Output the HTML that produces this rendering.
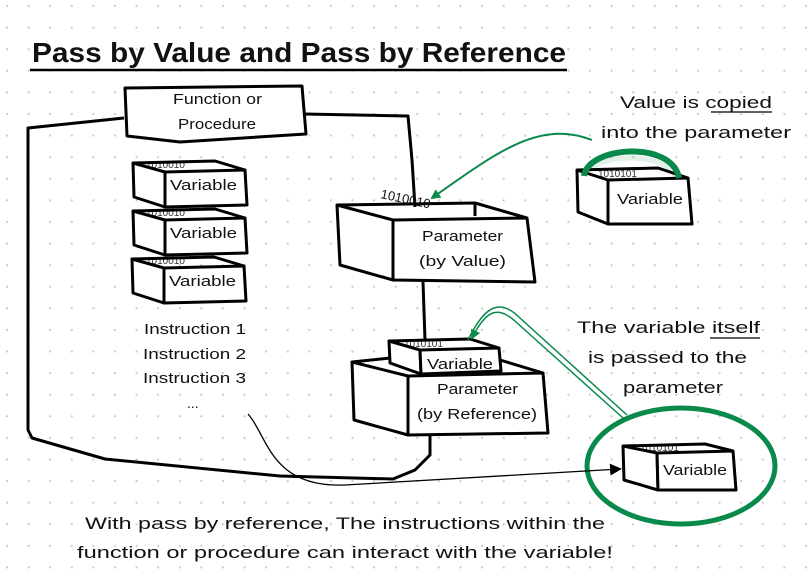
<!DOCTYPE html>
<html><head><meta charset="utf-8"><style>
html,body{margin:0;padding:0;background:#fff;}
body{width:808px;height:586px;overflow:hidden;
background-image:radial-gradient(circle,#c8c8c8 0.9px,transparent 1.3px);
background-size:21.6px 21.6px;background-position:-3.8px -4.8px;}
svg{position:absolute;left:0;top:0;}
text{font-family:"Liberation Sans",sans-serif;fill:#111;}
.b{fill:#fff;stroke:#000;stroke-width:3;stroke-linejoin:round;}
.l{fill:none;stroke:#000;stroke-width:3;stroke-linejoin:round;}
.g{fill:none;stroke:#0a8a4a;}
.bin{font-size:10px;fill:#333;}
</style></head><body>
<svg width="808" height="586" viewBox="0 0 808 586">
<defs>
<marker id="ga" markerWidth="10" markerHeight="10" refX="8" refY="5" orient="auto" markerUnits="userSpaceOnUse"><path d="M0,0 L10,5 L0,10 z" fill="#0a8a4a"/></marker>
<marker id="ka" markerWidth="12" markerHeight="12" refX="10" refY="6" orient="auto" markerUnits="userSpaceOnUse"><path d="M0,0 L12,6 L0,12 z" fill="#000"/></marker>
</defs>
<!-- title -->
<text x="32" y="62" font-size="28" font-weight="bold" textLength="534" lengthAdjust="spacingAndGlyphs">Pass by Value and Pass by Reference</text>
<line x1="30" y1="70" x2="567" y2="70" stroke="#000" stroke-width="2.5"/>

<!-- outline -->
<path class="l" d="M124,118 L28,128 L28,430 L32,438 L105,459 L280,476 L393,479 L415,470 L430,455 L430,436"/>
<path class="l" d="M304,114 L408,116 L412,160 L415,207"/>
<line x1="423" y1="282" x2="425" y2="340" stroke="#000" stroke-width="3"/>

<!-- function box -->
<path class="b" d="M125,88 L302,86 L306,134 L180,142 L127,136 Z"/>
<text x="173" y="104" font-size="15" textLength="89" lengthAdjust="spacingAndGlyphs">Function or</text>
<text x="178" y="129" font-size="15" textLength="78" lengthAdjust="spacingAndGlyphs">Procedure</text>

<!-- variable boxes left -->
<g>
<text class="bin" x="146" y="168">1010010</text>
<path class="b" d="M133,163 L165,172 L165,207 L134,197 Z"/>
<path class="b" d="M165,172 L245,170 L247,205 L165,207 Z"/>
<path class="l" d="M133,163 L215,161 L245,170"/>
<text x="170" y="190" font-size="15" textLength="67" lengthAdjust="spacingAndGlyphs">Variable</text>
</g>
<g>
<text class="bin" x="146" y="216">1010010</text>
<path class="b" d="M133,211 L165,220 L165,255 L134,245 Z"/>
<path class="b" d="M165,220 L245,218 L247,253 L165,255 Z"/>
<path class="l" d="M133,211 L215,209 L245,218"/>
<text x="170" y="238" font-size="15" textLength="67" lengthAdjust="spacingAndGlyphs">Variable</text>
</g>
<g>
<text class="bin" x="146" y="264">1010010</text>
<path class="b" d="M132,259 L164,268 L164,303 L133,293 Z"/>
<path class="b" d="M164,268 L244,266 L246,301 L164,303 Z"/>
<path class="l" d="M132,259 L214,257 L244,266"/>
<text x="169" y="286" font-size="15" textLength="67" lengthAdjust="spacingAndGlyphs">Variable</text>
</g>

<!-- instructions -->
<text x="144" y="334" font-size="15" textLength="102" lengthAdjust="spacingAndGlyphs">Instruction 1</text>
<text x="143" y="359" font-size="15" textLength="103" lengthAdjust="spacingAndGlyphs">Instruction 2</text>
<text x="143" y="383" font-size="15" textLength="103" lengthAdjust="spacingAndGlyphs">Instruction 3</text>
<text x="187" y="408" font-size="14">...</text>

<!-- param by value -->
<text x="380" y="198" font-size="13" transform="rotate(12 380 198)">1010010</text>
<path class="b" d="M337,205 L393,220 L393,280 L340,265 Z"/>
<path class="b" d="M393,220 L527,218 L535,282 L393,280 Z"/>
<path class="l" d="M337,205 L475,203 L527,218 M475,203 L475,216"/>
<text x="422" y="241" font-size="15" textLength="81" lengthAdjust="spacingAndGlyphs">Parameter</text>
<text x="419" y="266" font-size="15" textLength="87" lengthAdjust="spacingAndGlyphs">(by Value)</text>

<!-- param by reference -->
<path class="b" d="M352,362 L408,376 L408,435 L354,420 Z"/>
<path class="b" d="M408,376 L543,373 L548,433 L408,435 Z"/>
<path class="l" d="M352,362 L390,358 M500,360 L543,373"/>
<text class="bin" x="404" y="347">1010101</text>
<path class="b" d="M389,341 L420,350 L421,374 L390,363 Z"/>
<path class="b" d="M420,350 L499,348 L501,371 L421,374 Z"/>
<path class="l" d="M389,341 L470,339 L499,348"/>
<text x="427" y="369" font-size="15" textLength="66" lengthAdjust="spacingAndGlyphs">Variable</text>
<text x="437" y="394" font-size="15" textLength="81" lengthAdjust="spacingAndGlyphs">Parameter</text>
<text x="417" y="419" font-size="15" textLength="120" lengthAdjust="spacingAndGlyphs">(by Reference)</text>

<!-- right top variable -->
<ellipse cx="630" cy="180" rx="46" ry="22" fill="none" stroke="#0a8a4a" stroke-opacity="0.12" stroke-width="5"/>
<text class="bin" x="598" y="177">1010101</text>
<path class="b" d="M577,170 L608,180 L608,224 L578,212 Z"/>
<path class="b" d="M608,180 L688,178 L692,224 L608,224 Z"/>
<path class="l" d="M577,170 L658,168 L688,178"/>
<text x="617" y="204" font-size="15" textLength="66" lengthAdjust="spacingAndGlyphs">Variable</text>
<path class="g" stroke-width="6" d="M584,176 C588,146 672,140 679,178"/>

<!-- right bottom variable -->
<ellipse cx="681" cy="466" rx="94" ry="58" class="g" stroke-width="5"/>
<text class="bin" x="640" y="451">1010101</text>
<path class="b" d="M623,446 L657,453 L658,490 L624,480 Z"/>
<path class="b" d="M657,453 L733,451 L736,490 L658,490 Z"/>
<path class="l" d="M623,446 L705,444 L733,451"/>
<text x="663" y="475" font-size="15" textLength="64" lengthAdjust="spacingAndGlyphs">Variable</text>

<!-- green arrows -->
<path class="g" stroke-width="2" d="M592,140 C540,120 500,150 432,198" marker-end="url(#ga)"/>
<path class="g" stroke-width="1.5" d="M627,415 L520,318 C500,298 485,305 468,340"/>
<path class="g" stroke-width="1.5" d="M623,418 L516,322 C498,305 486,310 472,338" marker-end="url(#ga)"/>

<!-- black curve -->
<path fill="none" stroke="#000" stroke-width="1.3" d="M248,414 C268,436 270,488 345,485 L620,469" marker-end="url(#ka)"/>

<!-- right texts -->
<text x="620" y="108" font-size="17" textLength="152" lengthAdjust="spacingAndGlyphs">Value is copied</text>
<line x1="711" y1="112" x2="772" y2="112" stroke="#000" stroke-width="1.2"/>
<text x="601" y="138" font-size="17" textLength="190" lengthAdjust="spacingAndGlyphs">into the parameter</text>
<text x="577" y="333" font-size="17" textLength="183" lengthAdjust="spacingAndGlyphs">The variable itself</text>
<line x1="710" y1="338" x2="760" y2="338" stroke="#000" stroke-width="1.2"/>
<text x="588" y="363" font-size="17" textLength="159" lengthAdjust="spacingAndGlyphs">is passed to the</text>
<text x="623" y="393" font-size="17" textLength="100" lengthAdjust="spacingAndGlyphs">parameter</text>

<!-- bottom -->
<text x="85" y="529" font-size="17" textLength="520" lengthAdjust="spacingAndGlyphs">With pass by reference, The instructions within the</text>
<text x="77" y="558" font-size="17" textLength="536" lengthAdjust="spacingAndGlyphs">function or procedure can interact with the variable!</text>
</svg>
</body></html>
